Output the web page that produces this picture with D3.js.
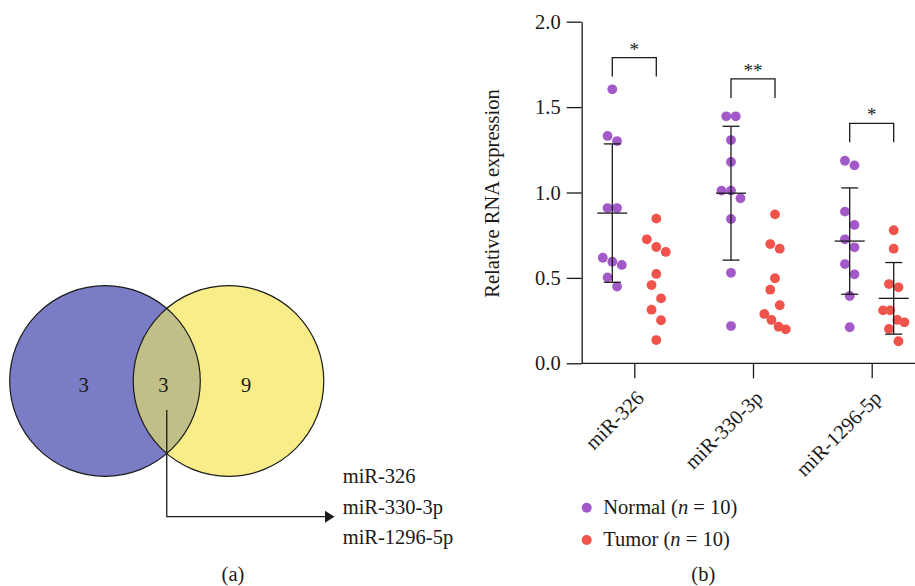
<!DOCTYPE html>
<html>
<head>
<meta charset="utf-8">
<script src="https://cdn.jsdelivr.net/npm/d3@7/dist/d3.min.js"></script>
<style>
  html, body { margin: 0; padding: 0; background: #ffffff; }
  svg { display: block; }
  text { font-family: "Liberation Serif", "Times New Roman", serif; fill: #1a1a1a; }
</style>
</head>
<body>
<svg id="fig" width="915" height="586"></svg>
<script>
// ---------------- data ----------------
const categories = ["miR-326", "miR-330-3p", "miR-1296-5p"];

const normalValues = [
  [1.604, 1.331, 1.301, 0.909, 0.909, 0.618, 0.595, 0.576, 0.503, 0.449],
  [1.446, 1.446, 1.307, 1.179, 1.011, 1.011, 0.966, 0.845, 0.530, 0.218],
  [1.186, 1.159, 0.888, 0.810, 0.726, 0.679, 0.581, 0.521, 0.394, 0.211]
];
const tumorValues = [
  [0.847, 0.726, 0.681, 0.652, 0.523, 0.458, 0.380, 0.314, 0.252, 0.136],
  [0.872, 0.698, 0.671, 0.498, 0.431, 0.340, 0.289, 0.254, 0.214, 0.199],
  [0.779, 0.671, 0.464, 0.445, 0.310, 0.310, 0.254, 0.240, 0.201, 0.129]
];
// mean ± SD bars drawn for the tumor series
const tumorBarShown = [false, false, true];

const sigLabels = ["*", "**", "*"];
const sigLevels = [1.79, 1.665, 1.405];

const yTicks = [0, 0.5, 1.0, 1.5, 2.0];
const groupNames = ["Normal", "Tumor"];
const groupN = [10, 10];

const vennRegionCounts = [3, 3, 9];
const sharedMiRNAs = ["miR-326", "miR-330-3p", "miR-1296-5p"];

// ---------------- styles ----------------
const purple = "#a35ac9";
const red = "#ef534b";
const ink = "#1a1a1a";
const fontSize = 20.5;

const svg = d3.select("#fig");
svg.append("rect").attr("width", 915).attr("height", 586).attr("fill", "#fff");

// ================= panel (a): Venn diagram =================
const venn = svg.append("g");
const r = 95.3;
const c1 = { x: 105, y: 381 };
const c2 = { x: 228.5, y: 381 };

const defs = svg.append("defs");
defs.append("clipPath").attr("id", "clipLeft")
  .append("circle").attr("cx", c1.x).attr("cy", c1.y).attr("r", r);

venn.append("circle").attr("cx", c1.x).attr("cy", c1.y).attr("r", r)
  .attr("fill", "#7a7dc6");
venn.append("circle").attr("cx", c2.x).attr("cy", c2.y).attr("r", r)
  .attr("fill", "#f9ed89");
venn.append("circle").attr("cx", c2.x).attr("cy", c2.y).attr("r", r)
  .attr("clip-path", "url(#clipLeft)").attr("fill", "#c1bf88");
venn.append("circle").attr("cx", c1.x).attr("cy", c1.y).attr("r", r)
  .attr("fill", "none").attr("stroke", ink).attr("stroke-width", 1.2);
venn.append("circle").attr("cx", c2.x).attr("cy", c2.y).attr("r", r)
  .attr("fill", "none").attr("stroke", ink).attr("stroke-width", 1.2);

const vennLabelX = [c1.x - 21.5, (c1.x + c2.x) / 2 - 3.3, c2.x + 17.5];
venn.selectAll("text.count").data(vennRegionCounts).join("text")
  .attr("class", "count")
  .attr("x", (d, i) => vennLabelX[i])
  .attr("y", c1.y + 3.5)
  .attr("dy", "0.35em")
  .attr("text-anchor", "middle")
  .attr("font-size", fontSize)
  .text(d => d);

// arrow from the overlap to the list of shared miRNAs
const arrowX0 = (c1.x + c2.x) / 2;
venn.append("path")
  .attr("d", `M${arrowX0},410 V516.7 H326`)
  .attr("fill", "none").attr("stroke", ink).attr("stroke-width", 1.3);
venn.append("path")
  .attr("d", "M325,510.7 L334.5,516.7 L325,522.7 Z")
  .attr("fill", ink);

venn.selectAll("text.shared").data(sharedMiRNAs).join("text")
  .attr("class", "shared")
  .attr("x", 342.7)
  .attr("y", (d, i) => 483.3 + i * 30.5)
  .attr("font-size", fontSize)
  .text(d => d);

svg.append("text").attr("x", 233).attr("y", 581)
  .attr("text-anchor", "middle").attr("font-size", fontSize).text("(a)");

// ================= panel (b): scatter with mean ± SD =================
const y = d3.scaleLinear().domain([0, 2]).range([363.3, 21.7]);
const x = d3.scalePoint().domain(categories).range([634.3, 871.7]);
const groupOffset = d3.scaleOrdinal().domain(groupNames).range([-22, 22]);
const color = d3.scaleOrdinal().domain(groupNames).range([purple, red]);
const axisX0 = 581.7;

// y axis
const yAxis = d3.axisLeft(y).tickValues(yTicks).tickFormat(d3.format(".1f"))
  .tickSize(15).tickSizeOuter(0).tickPadding(6);
const gy = svg.append("g").attr("transform", `translate(${axisX0},0)`).call(yAxis);
gy.select(".domain").attr("stroke", ink).attr("stroke-width", 1.3);
gy.selectAll(".tick line").attr("stroke", ink).attr("stroke-width", 1.3);
gy.selectAll(".tick text").attr("font-size", fontSize)
  .attr("font-family", "Liberation Serif, Times New Roman, serif").attr("fill", ink);

// x axis
const xAxis = d3.axisBottom(x).tickSize(15).tickSizeOuter(0).tickFormat("");
const gx = svg.append("g").attr("transform", `translate(0,${y(0)})`).call(xAxis);
gx.select(".domain").remove();
gx.selectAll(".tick line").attr("stroke", ink).attr("stroke-width", 1.3);
gx.append("line").attr("x1", axisX0).attr("x2", 915).attr("y1", 0).attr("y2", 0)
  .attr("stroke", ink).attr("stroke-width", 1.3);

svg.selectAll("text.xlab").data(categories).join("text")
  .attr("class", "xlab")
  .attr("transform", d => `translate(${x(d) + 11},${y(0) + 36}) rotate(-45)`)
  .attr("text-anchor", "end")
  .attr("font-size", fontSize)
  .text(d => d);

svg.append("text")
  .attr("transform", `translate(499,${(y(0) + y(2)) / 2 + 1}) rotate(-90)`)
  .attr("text-anchor", "middle")
  .attr("font-size", fontSize)
  .text("Relative RNA expression");

// row-based swarm layout: nearby values share a row and spread sideways
function swarm(values, rowPx, spacing) {
  const items = values.map((v, i) => ({ v, py: y(v), dx: 0 }));
  const asc = items.slice().sort((a, b) => a.v - b.v);
  const rows = [];
  let cur = null;
  asc.forEach(it => {
    if (cur && cur[0].py - it.py < rowPx) cur.push(it);
    else { cur = [it]; rows.push(cur); }
  });
  rows.forEach(row => {
    row.sort((a, b) => b.v - a.v);
    const n = row.length;
    const step = n > 3 ? spacing * 0.75 : spacing;
    row.forEach((it, k) => { it.dx = (k - (n - 1) / 2) * step; });
  });
  return items;
}

const plot = svg.append("g");
const series = [
  { name: "Normal", values: normalValues, bars: [true, true, true] },
  { name: "Tumor", values: tumorValues, bars: tumorBarShown }
];

series.forEach(s => {
  categories.forEach((cat, ci) => {
    const vals = s.values[ci];
    const cx = x(cat) + groupOffset(s.name);
    const pts = swarm(vals, 16, 9.5);
    plot.append("g").selectAll("circle").data(pts).join("circle")
      .attr("cx", d => cx + d.dx)
      .attr("cy", d => d.py)
      .attr("r", 4.9)
      .attr("fill", color(s.name));
  });
});

// mean ± SD bars on top of the dots
series.forEach(s => {
  categories.forEach((cat, ci) => {
    if (!s.bars[ci]) return;
    const vals = s.values[ci];
    const m = d3.mean(vals), sd = d3.deviation(vals);
    const cx = x(cat) + groupOffset(s.name);
    const g = plot.append("g").attr("stroke", ink).attr("stroke-width", 1.3);
    g.append("line").attr("x1", cx).attr("x2", cx).attr("y1", y(m + sd)).attr("y2", y(m - sd));
    g.append("line").attr("x1", cx - 15).attr("x2", cx + 15).attr("y1", y(m)).attr("y2", y(m));
    g.append("line").attr("x1", cx - 8.5).attr("x2", cx + 8.5).attr("y1", y(m + sd)).attr("y2", y(m + sd));
    g.append("line").attr("x1", cx - 8.5).attr("x2", cx + 8.5).attr("y1", y(m - sd)).attr("y2", y(m - sd));
  });
});

// significance brackets
categories.forEach((cat, ci) => {
  const xl = x(cat) + groupOffset("Normal");
  const xr = x(cat) + groupOffset("Tumor");
  const top = y(sigLevels[ci]);
  plot.append("path")
    .attr("d", `M${xl},${top + 19} V${top} H${xr} V${top + 19}`)
    .attr("fill", "none").attr("stroke", ink).attr("stroke-width", 1.3);
  plot.append("text")
    .attr("x", (xl + xr) / 2)
    .attr("y", top - 2)
    .attr("text-anchor", "middle")
    .attr("font-size", 19)
    .attr("fill", "#333")
    .text(sigLabels[ci]);
});

// legend
const legend = svg.append("g");
groupNames.forEach((name, i) => {
  const ly = 507.7 + i * 32.3;
  legend.append("circle").attr("cx", 586.7).attr("cy", ly).attr("r", 5).attr("fill", color(name));
  const t = legend.append("text").attr("x", 603.3).attr("y", ly + 6).attr("font-size", fontSize);
  t.append("tspan").text(`${name} (`);
  t.append("tspan").attr("font-style", "italic").text("n");
  t.append("tspan").text(` = ${groupN[i]})`);
});

svg.append("text").attr("x", 703.3).attr("y", 581)
  .attr("text-anchor", "middle").attr("font-size", fontSize).text("(b)");
</script>
</body>
</html>
